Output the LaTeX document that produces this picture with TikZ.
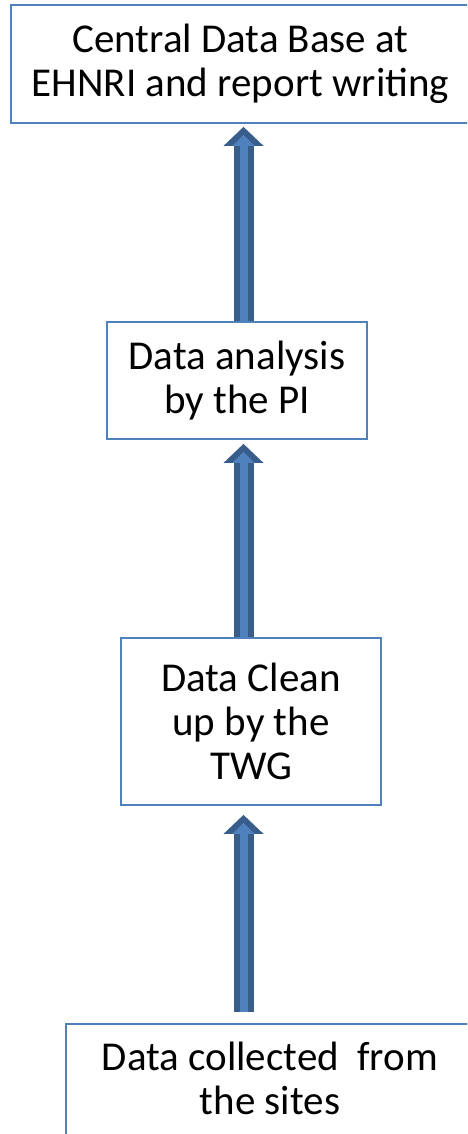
\documentclass[tikz,border=0pt]{standalone}
\usepackage{fontspec}
\setmainfont{Carlito}
\usetikzlibrary{arrows.meta,positioning}
\definecolor{boxblue}{RGB}{79,129,189}
\definecolor{arrowdark}{RGB}{56,93,138}
\tikzset{
  stagebox/.style={draw=boxblue, line width=1.8pt, align=center, inner sep=0pt,
    font=\fontsize{41}{44}\selectfont},
  uparrow/.style={draw=arrowdark, line width=20pt, shorten >=#1,
    -{Triangle[width=40pt,length=19pt,line width=0pt]},
    postaction={draw=boxblue, line width=8pt, shorten >=#1+8pt,
      -{Triangle[width=22pt,length=11pt,line width=0pt]}}},
  uparrow/.default=0pt
}
\begin{document}
\begin{tikzpicture}[x=1pt,y=-1pt]
\useasboundingbox (0,0) rectangle (467,1134);
\clip (0,0) rectangle (467,1134);
% the four stages
\node[stagebox, minimum width=459pt, minimum height=118pt] (base) at (240.5,64) {Central Data Base at\\EHNRI and report writing};
\node[stagebox, minimum width=260pt, minimum height=117pt] (pi) at (237,380.5) {Data analysis\\by the PI};
\node[stagebox, minimum width=260pt, minimum height=167pt] (twg) at (251,721.5) {Data Clean\\up by the\\TWG};
\node[stagebox, minimum width=408pt, minimum height=124pt, text depth=16pt] (sites) at (270,1086) {Data collected\ \ from\\the sites};
% arrows between the stages
\coordinate (spine) at (243.5,0);
\draw[uparrow=3pt] (spine |- pi.north) -- (spine |- base.south);
\draw[uparrow=4pt] (spine |- twg.north) -- (spine |- pi.south);
\draw[uparrow=9pt, shorten <=11pt] (spine |- sites.north) -- (spine |- twg.south);
\end{tikzpicture}
\end{document}
